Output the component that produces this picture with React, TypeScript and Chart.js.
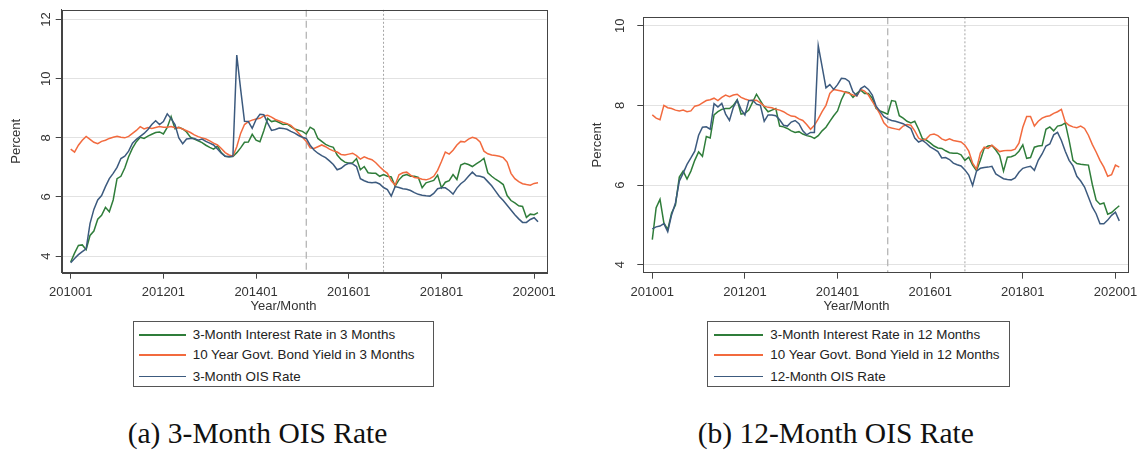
import React, { useEffect, useRef } from "react";
import { Chart, registerables } from "chart.js";

Chart.register(...registerables);

// ---------- data ----------
const X_TICK_POS = [0, 24, 48, 72, 96, 120];
const X_TICK_LABELS = ["201001", "201201", "201401", "201601", "201801", "202001"];
const EVENT_DASHED = 61; // 201502
const EVENT_DOTTED = 81; // 201610

const Y_TICKS_A = [4, 6, 8, 10, 12];
const Y_TICKS_B = [4, 6, 8, 10];

const LEGEND_A = [
  "3-Month Interest Rate in 3 Months",
  "10 Year Govt. Bond Yield in 3 Months",
  "3-Month OIS Rate",
];
const LEGEND_B = [
  "3-Month Interest Rate in 12 Months",
  "10 Year Govt. Bond Yield in 12 Months",
  "12-Month OIS Rate",
];

// Panel (a): 3-month horizon, monthly 201001..202002
const rate3m_in3 = [
  3.80, 4.10, 4.36, 4.38, 4.22, 4.70, 4.85, 5.25, 5.38, 5.65,
  5.50, 5.90, 6.62, 6.70, 6.98, 7.36, 7.65, 7.87, 8.02, 7.98,
  8.06, 8.12, 8.18, 8.20, 8.13, 8.35, 8.72, 8.31, 8.36, 8.30,
  8.20, 8.02, 7.96, 7.90, 7.84, 7.75, 7.68, 7.62, 7.72, 7.50,
  7.38, 7.36, 7.37, 7.50, 7.66, 7.85, 7.86, 8.12, 7.92, 7.87,
  8.24, 8.66, 8.55, 8.58, 8.52, 8.45, 8.47, 8.38, 8.30, 8.26,
  8.22, 8.13, 8.36, 8.28, 7.98, 7.88, 7.78, 7.72, 7.68, 7.42,
  7.27, 7.18, 7.14, 7.16, 7.30, 6.92, 7.03, 6.82, 6.80, 6.80,
  6.70, 6.76, 6.70, 6.68, 6.37, 6.58, 6.72, 6.76, 6.70, 6.70,
  6.66, 6.31, 6.48, 6.52, 6.56, 6.74, 6.31, 6.50, 6.55, 6.76,
  6.59, 7.08, 7.14, 7.10, 7.03, 7.12, 7.20, 7.31, 6.82, 6.70,
  6.60, 6.52, 6.42, 6.05, 5.88, 5.80, 5.70, 5.68, 5.31, 5.42,
  5.40, 5.47,
];
const bond10y_in3 = [
  7.62, 7.52, 7.75, 7.92, 8.05, 7.95, 7.85, 7.80, 7.88, 7.92,
  7.98, 8.02, 8.05, 8.02, 8.00, 8.05, 8.15, 8.25, 8.38, 8.30,
  8.35, 8.32, 8.35, 8.38, 8.36, 8.36, 8.38, 8.34, 8.35, 8.30,
  8.24, 8.18, 8.10, 8.04, 8.00, 7.96, 7.90, 7.82, 7.76, 7.64,
  7.50, 7.42, 7.38, 7.70, 8.15, 8.45, 8.55, 8.60, 8.64, 8.66,
  8.74, 8.76, 8.70, 8.62, 8.57, 8.52, 8.48, 8.42, 8.30, 8.16,
  8.02, 7.88, 7.66, 7.64, 7.70, 7.76, 7.70, 7.62, 7.56, 7.52,
  7.44, 7.42, 7.45, 7.48, 7.40, 7.28, 7.36, 7.30, 7.26, 7.16,
  7.02, 6.90, 6.80, 6.55, 6.40, 6.75, 6.82, 6.84, 6.74, 6.66,
  6.64, 6.60, 6.58, 6.62, 6.70, 6.90, 7.20, 7.52, 7.45, 7.58,
  7.76, 7.88, 7.86, 7.96, 8.02, 7.98, 7.86, 7.55, 7.46, 7.42,
  7.40, 7.38, 7.33, 7.18, 6.80, 6.62, 6.52, 6.45, 6.42, 6.40,
  6.46, 6.48,
];
const ois3m = [
  3.78, 3.92, 4.05, 4.15, 4.25, 5.10, 5.58, 5.90, 6.05, 6.35,
  6.62, 6.80, 7.00, 7.30, 7.38, 7.55, 7.82, 7.95, 8.05, 8.15,
  8.28, 8.45, 8.58, 8.45, 8.55, 8.81, 8.65, 8.45, 8.00, 7.80,
  7.96, 7.98, 7.98, 7.92, 7.96, 7.88, 7.82, 7.76, 7.62, 7.48,
  7.38, 7.36, 7.38, 10.80, 9.65, 8.56, 8.55, 8.32, 8.62, 8.80,
  8.78, 8.50, 8.25, 8.28, 8.33, 8.32, 8.29, 8.22, 8.16, 8.08,
  8.02, 7.98, 7.75, 7.59, 7.48, 7.40, 7.33, 7.22, 7.10, 6.92,
  6.97, 7.08, 7.14, 7.12, 7.03, 6.62, 6.55, 6.50, 6.48, 6.50,
  6.44, 6.32, 6.25, 6.03, 6.35, 6.32, 6.28, 6.26, 6.22, 6.15,
  6.09, 6.06, 6.04, 6.03, 6.12, 6.28, 6.31, 6.31, 6.22, 6.10,
  6.30, 6.45, 6.55, 6.70, 6.84, 6.72, 6.70, 6.66, 6.52, 6.38,
  6.20, 6.02, 5.88, 5.72, 5.56, 5.40, 5.26, 5.14, 5.14, 5.24,
  5.30, 5.16,
];

// Panel (b): 12-month horizon
const rate3m_in12 = [
  4.63, 5.43, 5.64, 5.05, 4.88, 5.30, 5.50, 6.20, 6.35, 6.15,
  6.35, 6.62, 6.83, 6.72, 7.22, 7.18, 7.76, 7.84, 7.90, 7.92,
  7.92, 8.00, 8.14, 7.78, 7.80, 7.88, 8.08, 8.28, 8.12, 7.96,
  7.84, 7.88, 7.92, 7.48, 7.46, 7.42, 7.36, 7.32, 7.34, 7.28,
  7.24, 7.22, 7.17, 7.24, 7.36, 7.45, 7.60, 7.74, 7.86, 8.14,
  8.34, 8.32, 8.20, 8.30, 8.38, 8.30, 8.30, 8.18, 7.92, 7.86,
  7.82, 7.78, 8.12, 8.10, 7.74, 7.68, 7.60, 7.56, 7.60, 7.40,
  7.16, 7.13, 7.06, 6.98, 6.93, 6.92, 6.86, 6.81, 6.80, 6.80,
  6.76, 6.62, 6.70, 6.50, 6.36, 6.62, 6.92, 6.98, 6.99, 6.88,
  6.74, 6.35, 6.70, 6.71, 6.75, 6.85, 7.01, 6.67, 6.69, 6.95,
  6.98, 6.99, 7.40, 7.46, 7.36, 7.48, 7.50, 7.56, 7.12, 6.62,
  6.54, 6.52, 6.51, 6.50, 6.02, 5.62, 5.52, 5.55, 5.27, 5.31,
  5.40, 5.48,
];
const bond10y_in12 = [
  7.76, 7.68, 7.64, 8.00, 7.94, 7.92, 7.88, 7.86, 7.88, 7.84,
  7.86, 7.98, 8.00, 8.06, 8.12, 8.14, 8.18, 8.12, 8.20, 8.26,
  8.22, 8.26, 8.28, 8.20, 8.16, 8.13, 8.12, 8.13, 8.06, 7.98,
  7.95, 7.94, 7.90, 7.88, 7.84, 7.78, 7.73, 7.72, 7.66, 7.62,
  7.52, 7.40, 7.50, 7.66, 7.84, 8.00, 8.30, 8.40, 8.38, 8.36,
  8.33, 8.30, 8.26, 8.24, 8.40, 8.36, 8.26, 8.10, 7.95, 7.78,
  7.56, 7.46, 7.43, 7.41, 7.39, 7.48, 7.52, 7.50, 7.36, 7.18,
  7.12, 7.16, 7.26, 7.28, 7.24, 7.16, 7.12, 7.16, 7.12, 7.10,
  7.08, 7.00, 6.85, 6.55, 6.40, 6.80, 6.95, 6.92, 7.00, 6.92,
  6.84, 6.86, 6.87, 6.87, 6.90, 7.05, 7.45, 7.72, 7.72, 7.48,
  7.60, 7.68, 7.72, 7.74, 7.80, 7.84, 7.90, 7.58, 7.50, 7.46,
  7.44, 7.48, 7.42, 7.25, 7.02, 6.83, 6.62, 6.45, 6.22, 6.26,
  6.50, 6.45,
];
const ois12m = [
  4.90, 4.95, 4.97, 5.03, 4.83, 5.25, 5.55, 6.10, 6.30, 6.52,
  6.68, 6.85, 7.25, 7.45, 7.46, 7.40, 8.04, 7.96, 8.05, 7.78,
  7.62, 7.95, 8.13, 7.90, 7.76, 8.12, 8.13, 8.03, 8.00, 7.60,
  7.76, 7.76, 7.74, 7.64, 7.50, 7.48, 7.58, 7.62, 7.54, 7.36,
  7.26, 7.32, 7.32, 9.50, 8.97, 8.44, 8.52, 8.40, 8.52, 8.68,
  8.67, 8.60, 8.34, 8.24, 8.42, 8.48, 8.40, 8.26, 7.98, 7.85,
  7.72, 7.66, 7.62, 7.60, 7.57, 7.54, 7.48, 7.42, 7.18, 7.08,
  7.12, 7.05, 6.96, 6.90, 6.84, 6.68, 6.69, 6.64, 6.55, 6.51,
  6.48, 6.38, 6.25, 5.99, 6.35, 6.42, 6.44, 6.45, 6.47, 6.28,
  6.22, 6.16, 6.14, 6.13, 6.18, 6.32, 6.42, 6.45, 6.47, 6.37,
  6.62, 6.78, 6.98, 7.03, 7.26, 7.32, 7.12, 6.85, 6.62, 6.48,
  6.22, 6.10, 5.95, 5.70, 5.45, 5.28, 5.03, 5.03, 5.12, 5.24,
  5.32, 5.10,
];

// ---------- styles ----------
const GREEN = "#2f7d3a";
const ORANGE = "#f26a3e";
const BLUE = "#3c5a7e";
const SANS = "'Liberation Sans', Arial, Helvetica, sans-serif";
const SERIF = "'Liberation Serif', 'Times New Roman', serif";

const refLinesPlugin = {
  id: "refLines",
  beforeDatasetsDraw(chart: any) {
    const { ctx, chartArea, scales } = chart;
    const x = scales.x;
    ctx.save();
    ctx.strokeStyle = "#b5b5b5";
    ctx.lineWidth = 1.3;
    ctx.setLineDash([7, 4]);
    let px = x.getPixelForValue(EVENT_DASHED);
    ctx.beginPath();
    ctx.moveTo(px, chartArea.top);
    ctx.lineTo(px, chartArea.bottom);
    ctx.stroke();
    ctx.strokeStyle = "#a5a5a5";
    ctx.lineWidth = 1;
    ctx.setLineDash([2, 2]);
    px = x.getPixelForValue(EVENT_DOTTED);
    ctx.beginPath();
    ctx.moveTo(px, chartArea.top);
    ctx.lineTo(px, chartArea.bottom);
    ctx.stroke();
    ctx.restore();
  },
  afterDatasetsDraw(chart: any) {
    const { ctx, chartArea } = chart;
    ctx.save();
    ctx.strokeStyle = "#444";
    ctx.lineWidth = 1;
    ctx.strokeRect(
      Math.round(chartArea.left) + 0.5,
      Math.round(chartArea.top) + 0.5,
      Math.round(chartArea.right - chartArea.left),
      Math.round(chartArea.bottom - chartArea.top)
    );
    ctx.restore();
  },
};

type PanelSpec = {
  green: number[];
  orange: number[];
  blue: number[];
  labels: string[];
  yMin: number;
  yMax: number;
  yTicks: number[];
  yAxisWidth: number;
  rightSpace: number;
  padTop: number;
  titlePadTop: number;
  yTickPad: number;
};

function buildConfig(p: PanelSpec): any {
  const toPts = (arr: number[]) => arr.map((y, i) => ({ x: i, y }));
  return {
    type: "line",
    data: {
      datasets: [
        { label: p.labels[0], data: toPts(p.green), borderColor: GREEN, borderWidth: 1.5, pointRadius: 0, order: 2 },
        { label: p.labels[1], data: toPts(p.orange), borderColor: ORANGE, borderWidth: 1.5, pointRadius: 0, order: 1 },
        { label: p.labels[2], data: toPts(p.blue), borderColor: BLUE, borderWidth: 1.5, pointRadius: 0, order: 0 },
      ],
    },
    options: {
      animation: false,
      responsive: false,
      devicePixelRatio: 1,
      layout: { padding: { left: 0, right: 0, top: p.padTop, bottom: 1.2 } },
      plugins: {
        legend: { display: false },
        tooltip: { enabled: false },
        title: {
          display: true,
          position: "bottom",
          text: "Year/Month",
          color: "#333",
          font: { family: SANS, size: 13, weight: "normal" },
          padding: 0,
        },
      },
      scales: {
        x: {
          type: "linear",
          min: -2.33,
          max: 123.25,
          afterBuildTicks: (s: any) => {
            s.ticks = X_TICK_POS.map((v) => ({ value: v }));
          },
          afterFit: (s: any) => {
            s.height = 25.5;
          },
          ticks: {
            autoSkip: false,
            maxRotation: 0,
            minRotation: 0,
            padding: 5.5,
            color: "#333",
            font: { family: SANS, size: 13 },
            callback: (v: number) => {
              const k = X_TICK_POS.indexOf(v);
              return k >= 0 ? X_TICK_LABELS[k] : "";
            },
          },
          grid: { drawOnChartArea: false, drawTicks: true, tickLength: 6, tickColor: "#444" },
          border: { display: true, color: "#444", width: 1 },
        },
        y: {
          type: "linear",
          position: "left",
          min: p.yMin,
          max: p.yMax,
          afterBuildTicks: (s: any) => {
            s.ticks = p.yTicks.map((v) => ({ value: v }));
          },
          afterFit: (s: any) => {
            s.width = p.yAxisWidth;
          },
          ticks: {
            minRotation: 90,
            maxRotation: 90,
            crossAlign: "center",
            padding: p.yTickPad,
            color: "#333",
            font: { family: SANS, size: 13 },
          },
          grid: { color: "#e2e2e2", lineWidth: 1, drawTicks: true, tickLength: 6, tickColor: "#444" },
          border: { display: true, color: "#444", width: 1 },
          title: {
            display: true,
            text: "Percent",
            color: "#333",
            font: { family: SANS, size: 13 },
            padding: { top: p.titlePadTop, bottom: 0 },
          },
        },
        ySpace: {
          type: "linear",
          position: "right",
          display: true,
          afterFit: (s: any) => {
            s.width = p.rightSpace;
          },
          ticks: { display: false },
          grid: { display: false, drawTicks: false },
          border: { display: false },
        },
      },
    },
    plugins: [refLinesPlugin],
  };
}

function ChartPanel(props: { left: number; width: number; height: number; spec: PanelSpec }) {
  const ref = useRef<HTMLCanvasElement | null>(null);
  useEffect(() => {
    if (!ref.current) return;
    const chart = new Chart(ref.current, buildConfig(props.spec));
    return () => chart.destroy();
  }, []);
  return (
    <canvas
      ref={ref}
      width={props.width}
      height={props.height}
      style={{ position: "absolute", left: props.left, top: 0, width: props.width, height: props.height }}
    />
  );
}

function LegendBox(props: {
  left: number;
  width: number;
  lineLeft: number;
  lineWidth: number;
  textLeft: number;
  labels: string[];
}) {
  const colors = [GREEN, ORANGE, BLUE];
  const rowTops = [13.6, 33.8, 55];
  return (
    <div
      style={{
        position: "absolute",
        left: props.left,
        top: 320.5,
        width: props.width,
        height: 66.5,
        border: "1px solid #555",
        boxSizing: "border-box",
        background: "#fff",
      }}
    >
      {props.labels.map((t, i) => (
        <React.Fragment key={i}>
          <div
            style={{
              position: "absolute",
              left: props.lineLeft,
              top: rowTops[i] - 1,
              width: props.lineWidth,
              height: 1.5,
              background: colors[i],
            }}
          />
          <div
            style={{
              position: "absolute",
              left: props.textLeft,
              top: rowTops[i] - 9,
              height: 18,
              lineHeight: "18px",
              fontFamily: SANS,
              fontSize: 13.4,
              color: "#222",
              whiteSpace: "nowrap",
            }}
          >
            {t}
          </div>
        </React.Fragment>
      ))}
    </div>
  );
}

export default function App() {
  const specA: PanelSpec = {
    green: rate3m_in3,
    orange: bond10y_in3,
    blue: ois3m,
    labels: LEGEND_A,
    yMin: 3.44,
    yMax: 12.33,
    yTicks: Y_TICKS_A,
    yAxisWidth: 61.7,
    rightSpace: 20.3,
    padTop: 6,
    titlePadTop: 8.8,
    yTickPad: 2,
  };
  const specB: PanelSpec = {
    green: rate3m_in12,
    orange: bond10y_in12,
    blue: ois12m,
    labels: LEGEND_B,
    yMin: 3.8,
    yMax: 10.21,
    yTicks: Y_TICKS_B,
    yAxisWidth: 73.3,
    rightSpace: 14.7,
    padTop: 6.7,
    titlePadTop: 19.5,
    yTickPad: 9.5,
  };
  return (
    <div
      style={{
        position: "absolute",
        left: 0,
        top: 0,
        width: 1143,
        height: 455,
        background: "#fff",
        overflow: "hidden",
      }}
    >
      <ChartPanel left={0} width={567} height={315} spec={specA} />
      <ChartPanel left={570} width={573} height={315} spec={specB} />
      <LegendBox left={132.7} width={301.6} lineLeft={5.3} lineWidth={47} textLeft={59} labels={LEGEND_A} />
      <LegendBox left={706.7} width={303.3} lineLeft={6.6} lineWidth={48.4} textLeft={62.6} labels={LEGEND_B} />
      <div
        style={{
          position: "absolute",
          left: 127.7,
          top: 416,
          fontFamily: SERIF,
          fontSize: 29.5,
          lineHeight: "34px",
          color: "#111",
          whiteSpace: "nowrap",
        }}
      >
        (a) 3-Month OIS Rate
      </div>
      <div
        style={{
          position: "absolute",
          left: 697.7,
          top: 416,
          fontFamily: SERIF,
          fontSize: 29.5,
          lineHeight: "34px",
          color: "#111",
          whiteSpace: "nowrap",
        }}
      >
        (b) 12-Month OIS Rate
      </div>
    </div>
  );
}
